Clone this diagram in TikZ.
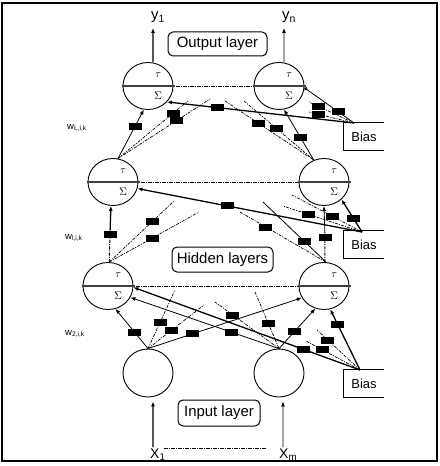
\documentclass[tikz,border=0pt]{standalone}
\usepackage{fontspec}
\setmainfont{Liberation Sans}
\usetikzlibrary{arrows.meta,shapes.geometric}
\begin{document}
\begin{tikzpicture}[x=1bp,y=-1bp,
  neuron/.style={draw,ellipse,line width=0.9bp,minimum width=50bp,minimum height=47bp,inner sep=0pt},
  wt/.style={fill=black,draw=none,minimum width=13bp,minimum height=7bp,inner sep=0pt},
  conn/.style={line width=0.8bp},
  heavy/.style={line width=1.3bp},
  dsh/.style={line width=0.7bp,dash pattern=on 3bp off 1.2bp on 1bp off 1.2bp},
  tip/.style={-{Latex[length=5bp,width=4bp]}},
  dottip/.style={-{Circle[length=3.5bp]}},
  lbox/.style={draw,rounded corners=5bp,line width=1bp,inner sep=0pt,font=\fontsize{15}{16}\selectfont},
  biasbox/.style={inner sep=0pt,minimum width=40bp,minimum height=27bp,font=\fontsize{13}{14}\selectfont},
  dotline/.style={line width=0.8bp,dash pattern=on 4bp off 1bp on 1bp off 1bp},
  wlab/.style={font=\fontsize{9.5}{10}\selectfont,inner sep=0pt,anchor=west},
  iolab/.style={font=\fontsize{15}{16}\selectfont,inner sep=0pt,anchor=base west},
  sym/.style={inner sep=0pt,font=\fontsize{11}{12}\selectfont}
]
\useasboundingbox (0,0) rectangle (440,466);
\draw[line width=1.5bp] (2,3) rectangle (437,461);

\newcommand\mkneuron[3]{%
  \node[neuron] (#1) at (#2,#3) {};
  \draw[line width=1.3bp,black!75] ([xshift=-1bp]#1.west) -- ([xshift=2bp]#1.east);
  \node[sym] (#1t) at ([xshift=10bp,yshift=11bp]#1.center) {$\tau$};
  \node[sym] (#1s) at ([xshift=10bp,yshift=-10bp]#1.center) {$\Sigma$};
}

% neurons
\mkneuron{oL}{148}{86}
\mkneuron{oR}{279}{86}
\mkneuron{hLb}{113}{182}
\mkneuron{hRb}{324}{182}
\mkneuron{hLa}{108}{286}
\mkneuron{hRa}{324}{286}
\node[neuron,minimum height=48bp] (inL) at (148,373) {};
\node[neuron,minimum height=48bp] (inR) at (279,373) {};

% layer labels
\node[lbox,minimum width=99bp,minimum height=24bp] (outlab) at (217.5,44) {Output layer};
\node[lbox,minimum width=101bp,minimum height=25bp] (hidlab) at (222.5,259.5) {Hidden layers};
\node[lbox,minimum width=82bp,minimum height=26bp] (inlab) at (219,413) {Input layer};

% bias boxes
\node[biasbox] (b1) at (364,136.5) {Bias};
\node[biasbox] (b2) at (364,244.5) {Bias};
\node[biasbox] (b3) at (364,383.5) {Bias};
\foreach \b in {b1,b2,b3}{
  \draw[line width=1.2bp] (\b.north east) -- (\b.north west) -- (\b.south west) -- (\b.south east);
}
\coordinate (bp1) at (354,123);
\coordinate (bp2) at (362,232);
\coordinate (bp3) at (360,370);

% weight labels
\node[wlab] (wL) at (67,128) {w\textsubscript{L,i,k}};
\node[wlab] (wl) at (65,238) {w\textsubscript{l,i,k}};
\node[wlab] (w2) at (65,334) {w\textsubscript{2,i,k}};

% outputs
\node[iolab] (y1) at (151,20) {y\textsubscript{1}};
\node[iolab] (yn) at (282,20) {y\textsubscript{n}};
\coordinate (y1t) at (153,28);
\coordinate (ynt) at (284,28);
\draw[heavy,tip] ([xshift=5bp]oL.north) -- (y1t);
\draw[conn,tip] ([xshift=5bp]oR.north) -- (ynt);

% inputs
\node[iolab,font=\fontsize{14}{15}\selectfont] (x1) at (150,458) {X\textsubscript{1}};
\node[iolab,font=\fontsize{14}{15}\selectfont] (xm) at (279,458) {X\textsubscript{m}};
\coordinate (x1b) at (153,447);
\coordinate (xmb) at (283,447);
\draw[heavy,tip] (x1b) -- ([xshift=5bp,yshift=-4bp]inL.south);
\draw[conn,tip] (xmb) -- ([xshift=4bp,yshift=-4bp]inR.south);
\coordinate (xd1) at (164,448);
\coordinate (xd2) at (267,448);
\draw[dotline,line width=0.6bp] (xd1) -- (xd2);

% lateral dotted lines
\draw[dotline] ([xshift=3bp]oL.east) -- ([xshift=-1bp]oR.west);
\draw[dotline] ([xshift=3bp]hLb.east) -- ([xshift=-1bp]hRb.west);
\draw[dotline] ([xshift=3bp]hLa.east) -- ([xshift=-1bp]hRa.west);

% ---------- upper hidden -> output ----------
\coordinate (du1) at (188,101);
\coordinate (du2) at (210,99);
\coordinate (du3) at (225,101);
\coordinate (du4) at (244,101);
\coordinate (du5) at (309,102);
\coordinate (du6) at (309,112);
\draw[conn,tip] (hLb.78) -- node[wt,pos=.66] (wu1) {} (oL.-100);
\draw[dsh] (hLb.78) -- node[wt,pos=.79] (wu2) {} (du1);
\draw[dsh] (hLb.78) -- node[wt,pos=.64] (wu3) {} (du2);
\draw[heavy,tip] (bp1) -- node[wt,pos=.73] (wu4) {} (oL.-40);
\draw[dsh] (du3) -- node[wt,pos=.38] (wu5) {} (hRb.115);
\draw[dsh] (du4) -- node[wt,pos=.47] (wu6) {} (hRb.115);
\draw[conn,tip] (hRb.115) -- node[wt,pos=.45] (wu7) {} (oR.-78);
\draw[conn,dottip] (bp1) -- node[wt,pos=.32] (wu8) {} (oR.-4);
\draw[dsh] (bp1) -- node[wt,pos=.8] (wu9) {} (du5);
\draw[dsh] (bp1) -- node[wt,pos=.8] (wu10) {} (du6);

% ---------- lower hidden -> upper hidden ----------
\coordinate (dm1) at (174,201);
\coordinate (dm2) at (199,212);
\coordinate (dm3) at (240,212);
\coordinate (dm4) at (263,202);
\coordinate (dm5) at (283,206);
\coordinate (dm6) at (292,195);
\node[wt] (wm1) at (110,234) {};
\draw[dsh,line width=1bp] (hLa.87) -- (wm1);
\draw[heavy,tip] (wm1) -- (hLb.-95);
\draw[dsh] (hLa.87) -- node[wt,pos=.67] (wm2) {} (dm1);
\draw[dsh] (hLa.87) -- node[wt,pos=.48] (wm3) {} (dm2);
\draw[heavy,tip] (bp2) -- node[wt,pos=.6] (wm4) {} (hLb.-15);
\draw[dsh] (dm3) -- node[wt,pos=.3] (wm5) {} (hRa.85);
\draw[conn] (dm4) -- node[wt,pos=.66] (wm6) {} (hRa.85);
\node[wt] (wm7) at (325,237) {};
\draw[dsh,line width=1bp] (hRa.88) -- (wm7);
\draw[conn,tip] (wm7) -- (hRb.-90);
\draw[heavy,tip] (bp2) -- node[wt,pos=.4] (wm8) {} (hRb.-45);
\draw[dsh] (bp2) -- node[wt,pos=.68] (wm9) {} (dm5);
\draw[dsh] (bp2) -- node[wt,pos=.42] (wm10) {} (dm6);

% ---------- input -> lower hidden ----------
\coordinate (dl1) at (175,290);
\coordinate (dl2) at (204,305);
\coordinate (dl3) at (215,302);
\coordinate (dl4) at (255,292);
\coordinate (dl5) at (317,330);
\coordinate (dl6) at (306,341);
\draw[conn,tip] (inL.north) -- node[wt,pos=.4] (wl1) {} (hLa.-72);
\draw[dsh] (inL.north) -- node[wt,pos=.45] (wl2) {} (dl1);
\draw[dsh] (inL.north) -- node[wt,pos=.42] (wl3) {} (dl2);
\draw[conn,tip] (inL.north) -- node[wt,pos=.29] (wl4) {} (hRa.208);
\draw[conn,tip] (inR.north) -- node[wt,pos=.32] (wl5) {} (hLa.-27);
\draw[dsh] (inR.north) -- node[wt,pos=.72] (wl6) {} (dl3);
\draw[heavy,tip] (bp3) -- node[wt,pos=.25] (wl7) {} (hLa.-3);
\draw[dsh] (dl4) -- node[wt,pos=.55] (wl8) {} (inR.north);
\draw[conn,tip] (inR.north) -- node[wt,pos=.42] (wl9) {} (hRa.-111);
\draw[heavy,tip] (bp3) -- node[wt,pos=.75] (wl10) {} (hRa.-75);
\draw[dsh] (bp3) -- node[wt,pos=.75] (wl11) {} (dl5);
\draw[dsh] (bp3) -- node[wt,pos=.7] (wl12) {} (dl6);
\end{tikzpicture}
\end{document}
